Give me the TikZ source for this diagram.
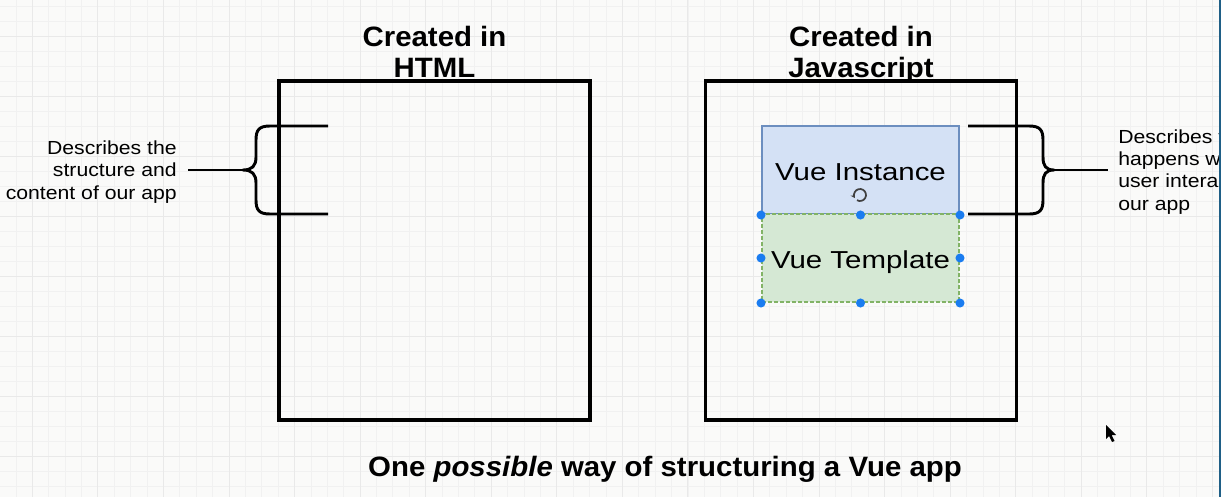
\documentclass[tikz,border=0pt]{standalone}
\usepackage{fontspec}
\setmainfont{Liberation Sans}
\newfontfamily\fbold[FakeStretch=1.05]{Liberation Sans}
\newfontfamily\freg[FakeStretch=1.12]{Liberation Sans}
\newfontfamily\fvue[FakeStretch=1.2]{Liberation Sans}
\usetikzlibrary{arrows.meta}
\definecolor{bgc}{HTML}{FAFAF9}
\definecolor{gridminor}{HTML}{F1F1F1}
\definecolor{gridmajor}{HTML}{E9E9E9}
\definecolor{instfill}{HTML}{D4E1F5}
\definecolor{instdraw}{HTML}{6C8EBF}
\definecolor{tplfill}{HTML}{D5E8D4}
\definecolor{tpldraw}{HTML}{82B366}
\definecolor{handlec}{HTML}{1A7CF0}
\definecolor{edgec}{HTML}{1F5F86}
\tikzset{
  bigbox/.style={draw=black, line width=2.4pt, minimum width=311*0.75pt, minimum height=339*0.75pt, inner sep=0pt},
  vuebox/.style={line width=1.5pt, minimum width=197*0.75pt, minimum height=88*0.75pt, inner sep=0pt},
  vuetext/.style={font=\fvue\fontsize{18.4}{21}\selectfont, anchor=base, inner sep=0pt},
  bracepath/.style={draw=black, line width=2.2pt, line join=round},
  title/.style={font=\fbold\bfseries\fontsize{21}{23.25}\selectfont, align=center, inner sep=0pt},
  lbl/.style={font=\freg\fontsize{14.2}{16.6}\selectfont, inner sep=0pt},
  handle/.style={circle, fill=handlec, inner sep=0pt, minimum size=6.8pt},
}
\begin{document}
\begin{tikzpicture}[x=0.75pt,y=-0.75pt]
\useasboundingbox (0,0) rectangle (1221,497);
\fill[bgc] (0,0) rectangle (1221,497);
% grid
\foreach \k in {-1,...,73} \draw[gridminor, line width=0.6pt] ({32.3+16.39*\k},0) -- ++(0,497);
\foreach \k in {0,...,33} \draw[gridminor, line width=0.6pt] (0,{6.7+15*\k}) -- ++(1221,0);
\foreach \k in {0,...,18} \draw[gridmajor, line width=0.7pt] ({32.3+65.56*\k},0) -- ++(0,497);
\foreach \k in {0,...,8} \draw[gridmajor, line width=0.7pt] (0,{36.7+60*\k}) -- ++(1221,0);
\fill[edgec] (1218.6,0) rectangle (1221,497);

% titles
\node[title, anchor=base] (t1) at (434.5,77) {Created in\\HTML};
\node[title, anchor=base] (t2) at (861,77) {Created in\\Javascript};

% big boxes
\node[bigbox] (html) at (434.5,250.5) {};
\node[bigbox] (js) at (861,250.5) {};

% vue boxes
\node[vuebox, fill=instfill, draw=instdraw] (inst) at (860.5,170) {};
\node[vuebox, fill=tplfill, draw=tpldraw, dashed, dash pattern=on 3pt off 1.5pt] (tpl) at (860.5,258) {};
\node[vuetext] (instt) at (860.5,180) {Vue Instance};
\node[vuetext] (tplt) at (860.5,268) {Vue Template};

% rotate icon
\coordinate (rot) at (860,195);
\draw[line width=1.3pt, black!75, -{Stealth[length=3pt,width=3.6pt]}] ([shift={(120:6)}]rot) arc[start angle=120, end angle=-210, radius=6];

% handles
\foreach \n/\p in {h1/inst.south west, h2/inst.south, h3/inst.south east, h4/tpl.west, h5/tpl.east, h6/tpl.south west, h7/tpl.south, h8/tpl.south east}
  \node[handle] (\n) at (\p) {};

% left label and brace
\node[lbl, anchor=base east, align=right] (lblL) at (177,199) {Describes the\\structure and\\content of our app};
\coordinate (tipL) at (243,170);
\coordinate (topL) at (328,126);
\coordinate (botL) at (328,214);
\draw[bracepath] (topL) -- (270,126) .. controls (259,126) and (256,130) .. (256,140) -- (256,157) .. controls (256,166) and (252,170) .. (tipL) .. controls (252,170) and (256,174) .. (256,183) -- (256,200) .. controls (256,210) and (259,214) .. (270,214) -- (botL);
\draw[bracepath] (tipL) -- (188,170) coordinate (lineL);

% right brace and label
\coordinate (tipR) at (1054,170);
\coordinate (topR) at (968,126);
\coordinate (botR) at (968,214);
\draw[bracepath] (topR) -- (1029,126) .. controls (1040,126) and (1043,130) .. (1043,140) -- (1043,157) .. controls (1043,166) and (1046,170) .. (tipR) .. controls (1046,170) and (1043,174) .. (1043,183) -- (1043,200) .. controls (1043,210) and (1040,214) .. (1029,214) -- (botR);
\draw[bracepath] (tipR) -- (1108,170) coordinate (lineR);
\begin{scope}
\clip (0,0) rectangle (1218.5,497);
\node[lbl, anchor=base west, align=left] (lblR) at (1118,210) {Describes the\\happens when\\user interacts\\our app};
\end{scope}

% caption
\node[font=\fbold\bfseries\fontsize{21}{24}\selectfont, anchor=base, inner sep=0pt] (cap) at (665,476) {One \textit{possible} way of structuring a Vue app};

% cursor
\fill[black] (1106,425) -- (1106,439) -- (1109,436) -- (1112,442) -- (1114.5,441) -- (1111.5,435) -- (1116,435) -- cycle;
\end{tikzpicture}
\end{document}
